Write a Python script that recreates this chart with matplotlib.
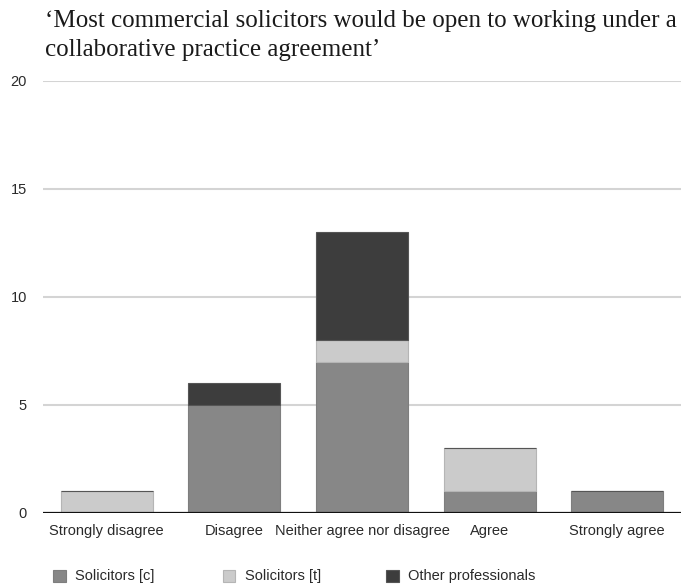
import numpy as np
from matplotlib import pyplot as plt
from matplotlib.patches import Rectangle

categories = ['Strongly disagree', 'Disagree', 'Neither agree nor disagree',
              'Agree', 'Strongly agree']
solicitors_c = [0, 5, 7, 1, 1]
solicitors_t = [1, 0, 1, 2, 0]
other_prof = [0, 1, 5, 0, 0]
series_names = ['Solicitors [c]', 'Solicitors [t]', 'Other professionals']
yticks = [0, 5, 10, 15, 20]

title_lines = ['\u2018Most commercial solicitors would be open to working under a',
               'collaborative practice agreement\u2019']

fills = ['#878787', '#cbcbcb', '#3d3d3d']
edges = ['#7e7e7e', '#b5b5b5', '#555555']

W, H = 681, 588
fig = plt.figure(figsize=(W / 100, H / 100), dpi=100)
ax = fig.add_axes([43 / W, 1 - 513 / H, 638 / W, 432 / H])

x = np.arange(len(categories))
bottom = np.zeros(len(categories))
for vals, fc, ec in zip([solicitors_c, solicitors_t, other_prof], fills, edges):
    vals = np.array(vals, dtype=float)
    ax.bar(x, vals, bottom=bottom, width=0.72, color=fc, edgecolor=ec,
           linewidth=0.8, zorder=3)
    bottom += vals

ax.set_xlim(-0.5, 4.5)
ax.set_ylim(0, 20)
ax.set_yticks(yticks)
ax.set_xticks(x)
ax.set_xticklabels(categories)
ax.yaxis.grid(True, color='#d4d4d4', linewidth=1.5, zorder=0)
ax.axhline(0, color='#111111', linewidth=1.6, zorder=4)
for s in ax.spines.values():
    s.set_visible(False)
ax.tick_params(length=0, labelsize=10.5, labelcolor='#2a2a2a',
               labelfontfamily='Liberation Sans')
ax.tick_params(axis='y', pad=11.5)
ax.tick_params(axis='x', pad=8)

# two-line serif heading
for line, ypix in zip(title_lines, [27, 56]):
    fig.text(45 / W, 1 - ypix / H, line, ha='left', va='baseline', fontsize=18,
             family='Liberation Serif', color='#1a1a1a')

# legend row along the bottom
sq_x = [53, 223, 386]
for xpix, name, fc, ec in zip(sq_x, series_names, fills, edges):
    fig.patches.append(Rectangle((xpix / W, 1 - 582 / H), 12.5 / W, 12.5 / H,
                                 transform=fig.transFigure, facecolor=fc,
                                 edgecolor=ec, linewidth=0.8))
    fig.text((xpix + 22) / W, 1 - 576 / H, name, ha='left', va='center',
             fontsize=10.5, family='Liberation Sans', color='#2a2a2a')

fig.savefig('out.png', dpi=100)
